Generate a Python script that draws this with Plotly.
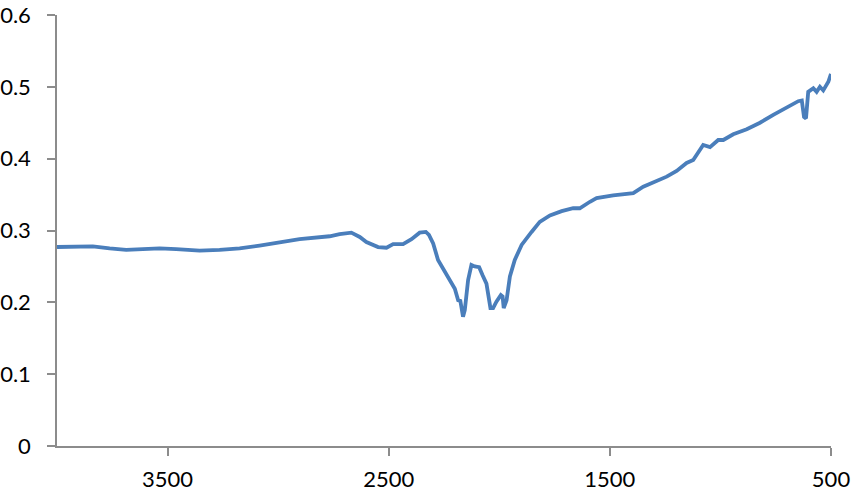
import plotly.graph_objects as go

wavenumber = [4000, 3913, 3838, 3762, 3687, 3612, 3536, 3461, 3355, 3265, 3174, 3084, 2993, 2903,
              2767, 2722, 2669, 2631, 2601, 2548, 2510, 2480, 2435, 2397, 2360, 2332, 2318, 2299,
              2277, 2254, 2224, 2201, 2186, 2176, 2164, 2156, 2141, 2126, 2111, 2091, 2076, 2058,
              2040, 2028, 2013, 1993, 1985, 1980, 1967, 1952, 1930, 1899, 1854, 1817, 1771, 1718,
              1666, 1636, 1590, 1560, 1485, 1440, 1394, 1349, 1289, 1243, 1198, 1153, 1123, 1100,
              1078, 1047, 1010, 987, 942, 881, 821, 761, 700, 648, 632, 622, 613, 603, 580, 565,
              550, 535, 512, 500]
absorbance = [0.277, 0.278, 0.278, 0.275, 0.273, 0.274, 0.275, 0.274, 0.272, 0.273, 0.275, 0.279,
              0.284, 0.288, 0.292, 0.295, 0.297, 0.291, 0.284, 0.277, 0.276, 0.281, 0.281, 0.288,
              0.297, 0.298, 0.294, 0.282, 0.259, 0.247, 0.231, 0.219, 0.203, 0.202, 0.180, 0.189,
              0.231, 0.252, 0.250, 0.249, 0.238, 0.226, 0.192, 0.192, 0.201, 0.210, 0.208, 0.192,
              0.203, 0.236, 0.259, 0.280, 0.298, 0.312, 0.321, 0.327, 0.331, 0.331, 0.340, 0.345,
              0.349, 0.351, 0.352, 0.361, 0.369, 0.375, 0.383, 0.394, 0.398, 0.409, 0.419, 0.416,
              0.426, 0.426, 0.434, 0.441, 0.450, 0.461, 0.471, 0.480, 0.481, 0.458, 0.456, 0.493,
              0.498, 0.493, 0.500, 0.495, 0.507, 0.518]

x_ticks = [3500, 2500, 1500, 500]
y_ticks = [0, 0.1, 0.2, 0.3, 0.4, 0.5, 0.6]
y_labels = ["0", "0.1", "0.2", "0.3", "0.4", "0.5", "0.6"]

fig = go.Figure(go.Scatter(x=wavenumber, y=absorbance, mode="lines",
                           line=dict(color="#4A7EBB", width=3.8), showlegend=False))

axis_font = dict(family="Lato, Carlito, Liberation Sans, sans-serif", size=22, color="#000000")
fig.update_layout(
    width=854, height=496,
    margin=dict(l=57, r=23, t=15, b=50),
    paper_bgcolor="white", plot_bgcolor="white",
    font=axis_font,
    xaxis=dict(range=[4000, 500], tickvals=x_ticks, ticktext=[str(v) for v in x_ticks],
               showgrid=False, zeroline=False, showline=True, linecolor="#8C8C8C", linewidth=1.5,
               ticks="outside", ticklen=8, tickcolor="#8C8C8C", tickwidth=1.5,
               ticklabelstandoff=5, automargin=False),
    yaxis=dict(range=[0, 0.6], tickvals=y_ticks, ticktext=y_labels,
               showgrid=False, zeroline=False, showline=True, linecolor="#8C8C8C", linewidth=1.5,
               ticks="outside", ticklen=8, tickcolor="#8C8C8C", tickwidth=1.5,
               ticklabelstandoff=12, automargin=False),
)

fig.write_html("out.html", config={"displayModeBar": False},
               post_script="document.body.style.margin='0';document.body.style.padding='0';"
                           "document.body.style.overflow='hidden';")
